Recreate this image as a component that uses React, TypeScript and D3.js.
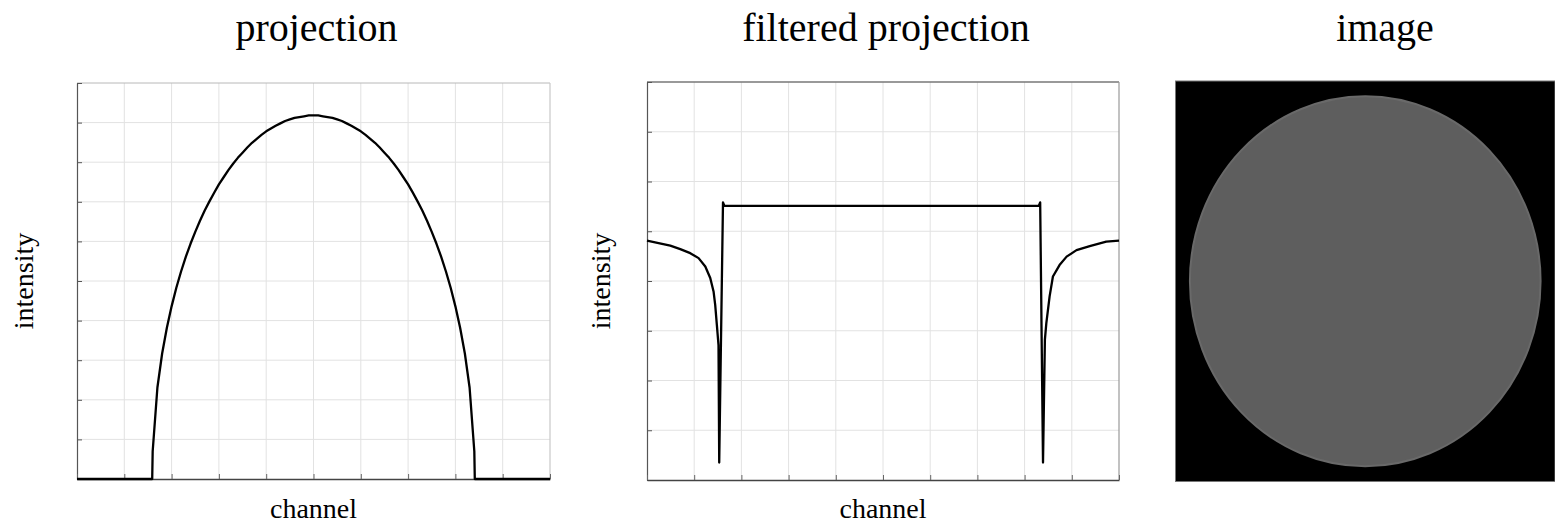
import * as d3 from "d3";
import { useEffect, useRef } from "react";

// projection of a uniform disc
const projectionChannel = [
  0, 15.9, 16, 17, 18, 19, 20, 21, 22, 23, 24, 25, 26, 27, 28, 29, 30, 31, 32, 33, 34, 35,
  36, 37, 38, 39, 40, 41, 42, 43, 44, 45, 46, 47, 48, 49, 50, 51, 52, 53, 54, 55, 56, 57,
  58, 59, 60, 61, 62, 63, 64, 65, 66, 67, 68, 69, 70, 71, 72, 73, 74, 75, 76, 77, 78, 79,
  80, 81, 82, 83, 84, 84.1, 100,
];
const projectionValue = [
  0, 0, 7.0, 23.1, 31.7, 38.2, 43.6, 48.3, 52.4, 56.1, 59.4, 62.4, 65.2, 67.8, 70.1, 72.3,
  74.4, 76.2, 78.0, 79.6, 81.1, 82.4, 83.7, 84.9, 85.9, 86.9, 87.8, 88.5, 89.2, 89.8, 90.4,
  90.8, 91.2, 91.4, 91.6, 91.8, 91.8, 91.8, 91.6, 91.4, 91.2, 90.8, 90.4, 89.8, 89.2, 88.5,
  87.8, 86.9, 85.9, 84.9, 83.7, 82.4, 81.1, 79.6, 78.0, 76.2, 74.4, 72.3, 70.1, 67.8, 65.2,
  62.4, 59.4, 56.1, 52.4, 48.3, 43.6, 38.2, 31.7, 23.1, 7.0, 0, 0,
];

// ramp-filtered projection
const filteredChannel = [
  0, 2.45, 4.93, 7.05, 9.16, 10.93, 12.35, 13.4, 14.1, 14.45, 14.8, 15.15, 15.3, 16.1, 16.4,
  83.0, 83.3, 83.9, 84.3, 84.6, 85.3, 86.0, 87.4, 88.9, 91.0, 93.8, 97.3, 100,
];
const filteredValue = [
  4.81, 4.76, 4.71, 4.64, 4.56, 4.46, 4.29, 4.06, 3.79, 3.52, 3.12, 2.71, 0.35, 5.58, 5.51,
  5.51, 5.58, 0.35, 2.82, 3.15, 3.69, 4.09, 4.32, 4.49, 4.62, 4.70, 4.79, 4.81,
];

const channelTicks = [0, 10, 20, 30, 40, 50, 60, 70, 80, 90, 100];
const projectionTicks = [0, 10, 20, 30, 40, 50, 60, 70, 80, 90, 100];
const filteredTicks = [0, 1, 2, 3, 4, 5, 6, 7, 8];

// reconstructed image: disc radius as fraction of half the panel
const discRadius = 0.924;

const titles = ["projection", "filtered projection", "image"];
const xLabel = "channel";
const yLabel = "intensity";

const FONT = '"Liberation Serif", "DejaVu Serif", serif';

export default function App() {
  const svgRef = useRef<SVGSVGElement | null>(null);

  useEffect(() => {
    if (!svgRef.current) return;
    const svg = d3.select(svgRef.current);
    svg.selectAll("*").remove();

    const drawPlot = (opts: {
      x0: number; x1: number; y0: number; y1: number;
      yDomain: [number, number]; yTicks: number[];
      xs: number[]; ys: number[];
      topColor: string; topWidth: number; rightColor: string;
      title: string; labelX: number;
    }) => {
      const x = d3.scaleLinear().domain([0, 100]).range([opts.x0, opts.x1]);
      const y = d3.scaleLinear().domain(opts.yDomain).range([opts.y1, opts.y0]);
      const g = svg.append("g");

      // grid
      g.selectAll(".vg")
        .data(channelTicks.slice(1, -1))
        .enter()
        .append("line")
        .attr("x1", d => x(d)).attr("x2", d => x(d))
        .attr("y1", opts.y0).attr("y2", opts.y1)
        .attr("stroke", "#e2e2e2").attr("stroke-width", 1);
      g.selectAll(".hg")
        .data(opts.yTicks.slice(1, -1))
        .enter()
        .append("line")
        .attr("y1", d => y(d)).attr("y2", d => y(d))
        .attr("x1", opts.x0).attr("x2", opts.x1)
        .attr("stroke", "#e2e2e2").attr("stroke-width", 1);

      // frame top/right
      g.append("line")
        .attr("x1", opts.x0).attr("x2", opts.x1)
        .attr("y1", opts.y0).attr("y2", opts.y0)
        .attr("stroke", opts.topColor).attr("stroke-width", opts.topWidth);
      g.append("line")
        .attr("x1", opts.x1).attr("x2", opts.x1)
        .attr("y1", opts.y0).attr("y2", opts.y1)
        .attr("stroke", opts.rightColor).attr("stroke-width", 1.2);

      // axes with inward ticks, no labels
      const yAxis = d3.axisLeft(y).tickValues(opts.yTicks).tickSizeInner(-5).tickSizeOuter(0).tickFormat(() => "");
      const ya = g.append("g").attr("transform", `translate(${opts.x0},0)`).call(yAxis);
      ya.select(".domain").attr("stroke", "#555").attr("stroke-width", 1.2);
      ya.selectAll(".tick line").attr("stroke", "#555");

      const xAxis = d3.axisBottom(x).tickValues(channelTicks).tickSizeInner(-5).tickSizeOuter(0).tickFormat(() => "");
      const xa = g.append("g").attr("transform", `translate(0,${opts.y1})`).call(xAxis);
      xa.select(".domain").attr("stroke", "#444").attr("stroke-width", 1.6);
      xa.selectAll(".tick line").attr("stroke", "#666");

      // curve
      const line = d3.line<number>()
        .x((_, i) => x(opts.xs[i]))
        .y(d => y(d));
      g.append("path")
        .attr("d", line(opts.ys) ?? "")
        .attr("fill", "none")
        .attr("stroke", "#000")
        .attr("stroke-width", 2.3)
        .attr("stroke-linejoin", "round");

      // texts
      const cx = (opts.x0 + opts.x1) / 2;
      const cy = (opts.y0 + opts.y1) / 2;
      svg.append("text")
        .attr("x", cx + 3).attr("y", 41)
        .attr("text-anchor", "middle")
        .attr("font-family", FONT).attr("font-size", 40)
        .text(opts.title);
      svg.append("text")
        .attr("x", cx).attr("y", 518)
        .attr("text-anchor", "middle")
        .attr("font-family", FONT).attr("font-size", 28)
        .text(xLabel);
      svg.append("text")
        .attr("transform", `translate(${opts.labelX},${cy}) rotate(-90)`)
        .attr("text-anchor", "middle")
        .attr("font-family", FONT).attr("font-size", 28)
        .text(yLabel);
    };

    drawPlot({
      x0: 77, x1: 550, y0: 83, y1: 479,
      yDomain: [0, 100], yTicks: projectionTicks,
      xs: projectionChannel, ys: projectionValue,
      topColor: "#b8b8b8", topWidth: 1, rightColor: "#c8c8c8",
      title: titles[0], labelX: 33,
    });

    drawPlot({
      x0: 647, x1: 1119, y0: 82, y1: 480,
      yDomain: [0, 8], yTicks: filteredTicks,
      xs: filteredChannel, ys: filteredValue,
      topColor: "#777", topWidth: 1.6, rightColor: "#999",
      title: titles[1], labelX: 610,
    });

    // image panel
    const ix = d3.scaleLinear().domain([-1, 1]).range([1175.5, 1555]);
    const iy = d3.scaleLinear().domain([-1, 1]).range([481.5, 81]);
    svg.append("rect")
      .attr("x", ix(-1)).attr("y", iy(1))
      .attr("width", ix(1) - ix(-1)).attr("height", iy(-1) - iy(1))
      .attr("fill", "#000").attr("stroke", "#777").attr("stroke-width", 1);
    svg.append("ellipse")
      .attr("cx", ix(0)).attr("cy", iy(0))
      .attr("rx", ix(discRadius) - ix(0))
      .attr("ry", iy(0) - iy(discRadius))
      .attr("fill", "#5e5e5e")
      .attr("stroke", "#696969").attr("stroke-width", 2);
    svg.append("text")
      .attr("x", 1385).attr("y", 41)
      .attr("text-anchor", "middle")
      .attr("font-family", FONT).attr("font-size", 40)
      .text(titles[2]);
  }, []);

  return (
    <svg
      ref={svgRef}
      width={1555}
      height={526}
      style={{ position: "absolute", left: 0, top: 0, background: "#fff" }}
    />
  );
}
